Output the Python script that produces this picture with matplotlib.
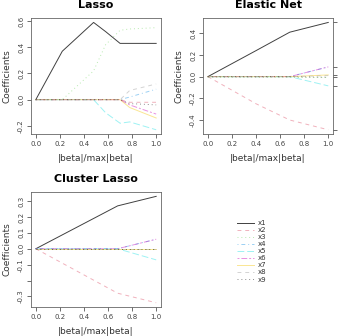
import numpy as np
import matplotlib
matplotlib.use("Agg")
import matplotlib.pyplot as plt

# variable names and R default palette / line types
var_names = ["x1", "x2", "x3", "x4", "x5", "x6", "x7", "x8", "x9"]
colors = ["black", "#DF536B", "#61D04F", "#2297E6", "#28E2E5",
          "#CD0BBC", "#F5C710", "#9E9E9E", "black"]
ltys = ["-", (0, (4, 4)), (0, (1, 3)), (0, (1, 3, 4, 3)), (0, (7, 3)),
        (0, (2, 2, 6, 2)), "-", (0, (4, 4)), (0, (1, 3))]

# Lasso path
lasso_steps = [0.0, 0.22, 0.48, 0.58, 0.70, 0.78, 1.0]
lasso_coef = [
    [0, 0.37, 0.59, 0.52, 0.43, 0.43, 0.43],
    [0, 0, 0, 0, 0, -0.02, -0.02],
    [0, 0, 0.22, 0.42, 0.53, 0.54, 0.55],
    [0, 0, 0, 0, 0, 0.02, 0.08],
    [0, 0, 0, -0.10, -0.18, -0.17, -0.23],
    [0, 0, 0, 0, 0, -0.04, -0.11],
    [0, 0, 0, 0, 0, -0.06, -0.14],
    [0, 0, 0, 0, 0, 0.07, 0.12],
    [0, 0, 0, 0, 0, -0.03, -0.04],
]

# Elastic net path
enet_steps = [0.0, 0.40, 0.68, 1.0]
enet_coef = [
    [0, 0.24, 0.41, 0.50],
    [0, -0.25, -0.40, -0.49],
    [0, 0, 0, 0],
    [0, 0, 0, 0.09],
    [0, 0, 0, -0.085],
    [0, 0, 0, 0.09],
    [0, 0, 0, 0.016],
    [0, 0, 0, 0.01],
    [0, 0, 0, -0.006],
]

# Cluster lasso path
clus_steps = [0.0, 0.68, 1.0]
clus_coef = [
    [0, 0.27, 0.33],
    [0, -0.28, -0.34],
    [0, 0, 0],
    [0, 0, 0.06],
    [0, 0, -0.07],
    [0, 0, 0.06],
    [0, 0, 0],
    [0, 0, 0],
    [0, 0, 0],
]

fig = plt.figure(figsize=(3.39, 3.36), dpi=100)
ax1 = fig.add_axes([0.0914, 0.601, 0.3835, 0.345])
ax2 = fig.add_axes([0.599, 0.601, 0.3835, 0.345])
ax3 = fig.add_axes([0.0914, 0.0863, 0.3835, 0.342])


def draw_path(ax, steps, coef, title, yticks, yticklabels):
    for i, c in enumerate(coef):
        alpha = 0.75 if i == 0 else 0.45
        ax.plot(steps, c, color=colors[i], linestyle=ltys[i], lw=0.7, alpha=alpha)
    ax.set_title(title, fontsize=8, fontweight="bold", pad=7)
    ax.set_xlim(-0.04, 1.04)
    ax.margins(y=0.04)
    ax.set_xticks([0, 0.2, 0.4, 0.6, 0.8, 1.0])
    ax.set_xticklabels(["0.0", "0.2", "0.4", "0.6", "0.8", "1.0"])
    ax.set_yticks(yticks)
    ax.set_yticklabels(yticklabels, rotation=90, va="center")
    ax.tick_params(labelsize=5, length=3, width=0.6, color="#555555",
                   labelcolor="#444444", pad=2)
    ax.set_xlabel("|beta|/max|beta|", fontsize=6.5, color="#333333", labelpad=5)
    ax.set_ylabel("Coefficients", fontsize=6.5, color="#333333", labelpad=5)
    for s in ax.spines.values():
        s.set_color("#666666")
        s.set_linewidth(0.6)


draw_path(ax1, lasso_steps, lasso_coef, "Lasso",
          [-0.2, 0.0, 0.2, 0.4, 0.6], ["-0.2", "0.0", "0.2", "0.4", "0.6"])
draw_path(ax2, enet_steps, enet_coef, "Elastic Net",
          [-0.4, -0.2, 0.0, 0.2, 0.4], ["-0.4", "-0.2", "0.0", "0.2", "0.4"])
draw_path(ax3, clus_steps, clus_coef, "Cluster Lasso",
          [-0.3, -0.2, -0.1, 0.0, 0.1, 0.2, 0.3],
          ["-0.3", "", "-0.1", "0.0", "0.1", "0.2", "0.3"])

# right-side ticks at the final elastic net coefficients
axr = ax2.twinx()
axr.set_ylim(ax2.get_ylim())
final_vals = [0.50, 0.09, 0.016, -0.006, -0.085, -0.49]
axr.set_yticks(final_vals)
axr.set_yticklabels([])
axr.tick_params(length=3, width=0.6, color="#555555")
for s in axr.spines.values():
    s.set_visible(False)

# legend panel
handles = [plt.Line2D([], [], color=colors[i], linestyle=ltys[i], lw=0.7,
                      alpha=0.75 if i == 0 else 0.45) for i in range(9)]
fig.legend(handles, var_names, loc="upper left", bbox_to_anchor=(0.69, 0.355),
           frameon=False, fontsize=5, handlelength=2.4, handletextpad=0.6,
           labelspacing=0.15, borderpad=0, labelcolor="#333333")

fig.savefig("out.png", dpi=100)
